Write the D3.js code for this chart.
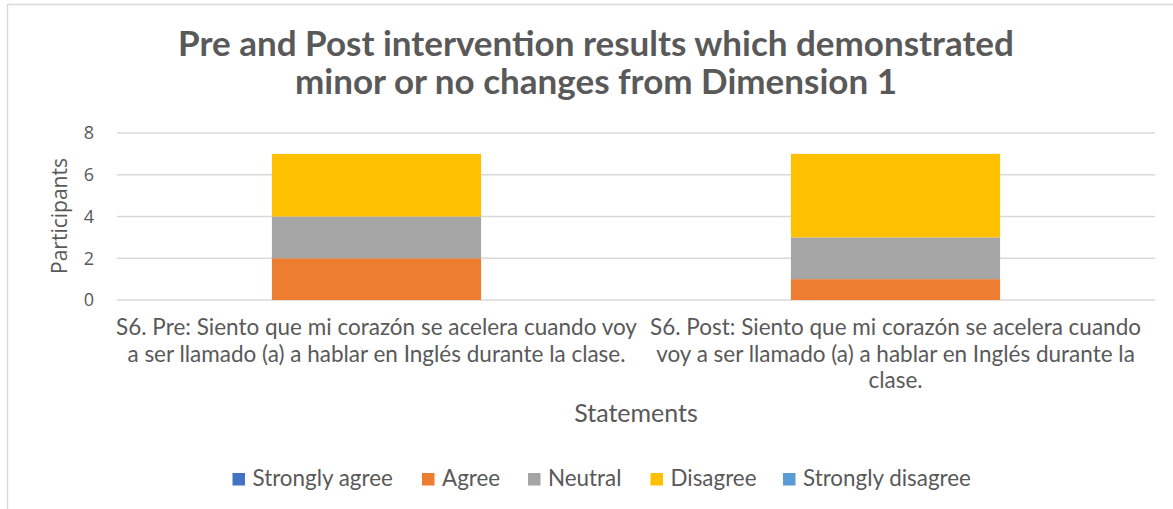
<!DOCTYPE html>
<html>
<head>
<meta charset="utf-8">
<script src="https://cdn.jsdelivr.net/npm/d3@7"></script>
<style>
  body { margin: 0; background: #fff; }
  svg text { fill: #595959; }
</style>
</head>
<body>
<div id="chart"></div>
<script>
// data
var categories = [
  "S6. Pre: Siento que mi corazón se acelera cuando voy a ser llamado (a) a hablar en Inglés durante la clase.",
  "S6. Post: Siento que mi corazón se acelera cuando voy a ser llamado (a) a hablar en Inglés durante la clase."
];
var categoryLines = [
  ["S6. Pre: Siento que mi corazón se acelera cuando voy", "a ser llamado (a) a hablar en Inglés durante la clase."],
  ["S6. Post: Siento que mi corazón se acelera cuando", "voy a ser llamado (a) a hablar en Inglés durante la", "clase."]
];
var seriesNames = ["Strongly agree", "Agree", "Neutral", "Disagree", "Strongly disagree"];
var stronglyAgree = [0, 0];
var agree = [2, 1];
var neutral = [2, 2];
var disagree = [3, 4];
var stronglyDisagree = [0, 0];
var yTicks = [0, 2, 4, 6, 8];
var colors = ["#4472C4", "#ED7D31", "#A5A5A5", "#FFC000", "#5B9BD5"];

var width = 1173, height = 509;
var font = "Lato, 'Open Sans', sans-serif";
var tickFont = "'Open Sans', 'Noto Sans', sans-serif";

var rows = categories.map(function(c, i) {
  return {
    cat: c,
    "Strongly agree": stronglyAgree[i],
    "Agree": agree[i],
    "Neutral": neutral[i],
    "Disagree": disagree[i],
    "Strongly disagree": stronglyDisagree[i]
  };
});

var svg = d3.select("#chart").append("svg")
  .attr("width", width)
  .attr("height", height);

// chart border
svg.append("path")
  .attr("d", "M7.5,509 L7.5,4.5 L1173,4.5")
  .style("fill", "none")
  .style("stroke", "#D9D9D9")
  .style("stroke-width", 1.5);

var x = d3.scaleBand()
  .domain(categories)
  .range([117, 1155])
  .paddingInner(0.597)
  .paddingOuter(0.2985);

var y = d3.scaleLinear()
  .domain([0, 8])
  .range([300, 133]);

// gridlines
svg.append("g")
  .selectAll("line")
  .data(yTicks)
  .enter()
  .append("line")
  .attr("x1", 117)
  .attr("x2", 1155)
  .attr("y1", function(d){ return y(d); })
  .attr("y2", function(d){ return y(d); })
  .style("stroke", "#D9D9D9")
  .style("stroke-width", 1.5);

// y tick labels
var yAxis = svg.append("g")
  .attr("transform", "translate(94,0)")
  .call(d3.axisLeft(y).tickValues(yTicks).tickSize(0).tickPadding(0));
yAxis.select(".domain").remove();
yAxis.selectAll("text")
  .style("font-family", tickFont)
  .style("font-size", "18px")
  .style("fill", "#595959");

// stacked bars
var stack = d3.stack().keys(seriesNames);
var layers = stack(rows);

svg.append("g")
  .selectAll("g")
  .data(layers)
  .enter()
  .append("g")
  .style("fill", function(d, i){ return colors[i]; })
  .selectAll("rect")
  .data(function(d){ return d; })
  .enter()
  .append("rect")
  .attr("x", function(d){ return x(d.data.cat); })
  .attr("width", x.bandwidth())
  .attr("y", function(d){ return y(d[1]); })
  .attr("height", function(d){ return y(d[0]) - y(d[1]); });

// category labels
var catG = svg.append("g");
categories.forEach(function(c, i) {
  var cx = x(c) + x.bandwidth() / 2;
  categoryLines[i].forEach(function(line, j) {
    catG.append("text")
      .attr("x", cx)
      .attr("y", 335 + j * 26.5)
      .attr("text-anchor", "middle")
      .style("font-family", font)
      .style("font-size", "22.5px")
      .text(line);
  });
});

// axis titles
svg.append("text")
  .attr("x", 636)
  .attr("y", 422)
  .attr("text-anchor", "middle")
  .style("font-family", font)
  .style("font-size", "25px")
  .text("Statements");

svg.append("text")
  .attr("transform", "translate(67,216) rotate(-90)")
  .attr("text-anchor", "middle")
  .style("font-family", tickFont)
  .style("font-size", "21px")
  .text("Participants");

// title
var titleLines = ["Pre and Post intervention results which demonstrated", "minor or no changes from Dimension 1"];
svg.selectAll(".title")
  .data(titleLines)
  .enter()
  .append("text")
  .attr("class", "title")
  .attr("x", 596)
  .attr("y", function(d, i){ return 56 + i * 38; })
  .attr("text-anchor", "middle")
  .style("font-family", font)
  .style("font-size", "35px")
  .style("font-weight", "bold")
  .text(function(d){ return d; });

// legend
var legendX = [232.5, 422, 528, 650.5, 783];
var legend = svg.append("g")
  .selectAll("g")
  .data(seriesNames)
  .enter()
  .append("g")
  .attr("transform", function(d, i){ return "translate(" + legendX[i] + ",473)"; });
legend.append("rect")
  .attr("width", 12.5)
  .attr("height", 12.5)
  .style("fill", function(d, i){ return colors[i]; });
legend.append("text")
  .attr("x", 20)
  .attr("y", 13)
  .style("font-family", font)
  .style("font-size", "22.4px")
  .text(function(d){ return d; });
</script>
</body>
</html>
